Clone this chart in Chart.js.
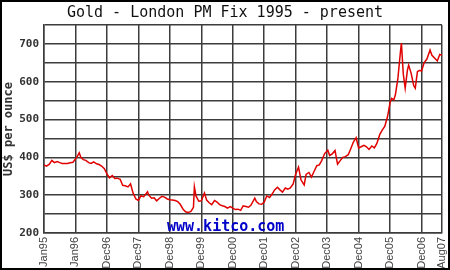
<!DOCTYPE html>
<html>
<head>
<meta charset="utf-8">
<script src="https://cdn.jsdelivr.net/npm/chart.js@4.4.1/dist/chart.umd.min.js"></script>
<style>
  html, body { margin: 0; padding: 0; background: #fff; }
  #wrap { width: 450px; height: 270px; }
</style>
</head>
<body>
<div id="wrap"><canvas id="goldChart" width="450" height="270"></canvas></div>
<script>
// decimal years (Jan95 = 1995.0) and US$ per ounce
var dates = [
  1995.00, 1995.08, 1995.17, 1995.25, 1995.33, 1995.42, 1995.50, 1995.58, 1995.67, 1995.75, 1995.83, 1995.92,
  1996.04, 1996.12, 1996.17, 1996.25, 1996.33, 1996.42, 1996.50, 1996.58, 1996.67, 1996.75, 1996.83, 1996.92,
  1997.00, 1997.08, 1997.17, 1997.25, 1997.33, 1997.42, 1997.50, 1997.58, 1997.67, 1997.75, 1997.83, 1997.92,
  1998.00, 1998.08, 1998.17, 1998.29, 1998.33, 1998.42, 1998.50, 1998.58, 1998.67, 1998.75, 1998.83, 1998.92,
  1999.00, 1999.08, 1999.17, 1999.25, 1999.33, 1999.42, 1999.50, 1999.58, 1999.67, 1999.75, 1999.78, 1999.83, 1999.92,
  2000.00, 2000.10, 2000.17, 2000.25, 2000.33, 2000.42, 2000.50, 2000.58, 2000.67, 2000.75, 2000.83, 2000.92,
  2001.00, 2001.08, 2001.17, 2001.25, 2001.33, 2001.42, 2001.50, 2001.58, 2001.70, 2001.75, 2001.83, 2001.92,
  2002.00, 2002.08, 2002.17, 2002.25, 2002.33, 2002.42, 2002.50, 2002.58, 2002.67, 2002.75, 2002.83, 2002.92,
  2003.00, 2003.09, 2003.17, 2003.27, 2003.33, 2003.42, 2003.50, 2003.58, 2003.67, 2003.75, 2003.83, 2003.92,
  2004.02, 2004.08, 2004.17, 2004.25, 2004.33, 2004.42, 2004.50, 2004.58, 2004.67, 2004.75, 2004.83, 2004.92,
  2005.00, 2005.08, 2005.17, 2005.25, 2005.33, 2005.42, 2005.50, 2005.58, 2005.67, 2005.75, 2005.83, 2005.92,
  2006.00, 2006.05, 2006.12, 2006.17, 2006.25, 2006.33, 2006.36, 2006.42, 2006.48, 2006.55, 2006.59, 2006.67,
  2006.75, 2006.80, 2006.87, 2006.95,
  2007.00, 2007.08, 2007.17, 2007.27, 2007.33, 2007.42, 2007.50, 2007.58, 2007.65
];
var prices = [
  380, 377, 382, 392, 386, 389, 386, 384, 384, 384, 386, 387,
  400, 412, 400, 394, 392, 386, 384, 388, 383, 381, 377, 370,
  356, 346, 352, 344, 345, 342, 326, 325, 322, 330, 306, 290,
  286, 298, 296, 309, 300, 292, 293, 285, 292, 297, 295, 290,
  288, 287, 286, 283, 276, 263, 256, 254, 257, 268, 322, 298, 284,
  285, 306, 287, 280, 275, 286, 282, 275, 272, 270, 266, 270,
  266, 262, 263, 260, 272, 270, 268, 274, 292, 283, 277, 276,
  282, 298, 294, 303, 314, 321, 314, 308, 319, 316, 319, 330,
  356, 374, 340, 327, 355, 360, 348, 362, 378, 380, 392, 410,
  419, 405, 410, 418, 382, 392, 400, 402, 407, 423, 440, 452,
  425, 428, 432, 428, 421, 430, 425, 437, 460, 472, 482, 508,
  545, 556, 552, 566, 610, 680, 702, 620, 583, 630, 644, 622,
  590, 583, 627, 630,
  628, 650, 660, 684, 670, 662, 655, 672, 670
];

var xTickValues = [1995, 1996, 1997, 1998, 1999, 2000, 2001, 2002, 2003, 2004, 2005, 2006, 2007, 2007.65];
var xTickLabels = ['Jan95', 'Jan96', 'Dec96', 'Dec97', 'Dec98', 'Dec99', 'Dec00', 'Dec01', 'Dec02', 'Dec03', 'Dec04', 'Dec05', 'Dec06', 'Aug07'];
var yTickLabels = [200, 300, 400, 500, 600, 700];

var points = dates.map(function (d, i) { return { x: d, y: prices[i] }; });

// white page, outer frame and the kitco watermark
var decor = {
  id: 'decor',
  beforeDraw: function (chart) {
    var c = chart.ctx;
    c.save();
    c.fillStyle = '#fff';
    c.fillRect(0, 0, chart.width, chart.height);
    c.restore();
  },
  afterDatasetsDraw: function (chart) {
    var c = chart.ctx;
    c.save();
    c.font = 'bold 15px "DejaVu Sans Mono"';
    c.fillStyle = '#0000c8';
    c.textAlign = 'left';
    c.textBaseline = 'alphabetic';
    c.fillText('www.kitco.com', 167, 231);
    c.restore();
  },
  afterDraw: function (chart) {
    var c = chart.ctx;
    c.save();
    c.strokeStyle = '#000';
    c.lineWidth = 2;
    c.strokeRect(1, 1, chart.width - 2, chart.height - 2);
    c.restore();
  }
};

new Chart(document.getElementById('goldChart'), {
  type: 'line',
  data: {
    datasets: [{
      data: points,
      borderColor: '#e00000',
      borderWidth: 1.5,
      pointRadius: 0,
      tension: 0,
      fill: false
    }]
  },
  options: {
    responsive: false,
    animation: false,
    layout: { padding: { left: 8, right: 8, top: 0, bottom: 0 } },
    plugins: {
      legend: { display: false },
      tooltip: { enabled: false },
      title: {
        display: true,
        text: 'Gold - London PM Fix 1995 - present',
        color: '#111',
        font: { family: '"DejaVu Sans Mono"', size: 15, weight: 'normal', lineHeight: 1.2 },
        padding: { top: 4, bottom: 3 }
      }
    },
    scales: {
      x: {
        type: 'linear',
        min: 1995,
        max: 2007.65,
        afterBuildTicks: function (scale) {
          scale.ticks = xTickValues.map(function (v) { return { value: v }; });
        },
        afterFit: function (scale) {
          scale.height = 37;
          scale.paddingLeft = 0;
          scale.paddingRight = 0;
        },
        grid: { color: '#3c3c3c', lineWidth: 1.5, drawTicks: false },
        border: { color: '#3c3c3c', width: 1.5 },
        ticks: {
          autoSkip: false,
          maxRotation: 90,
          minRotation: 90,
          padding: 4,
          color: '#444',
          font: { family: '"Liberation Sans"', size: 11 },
          callback: function (value) {
            var i = xTickValues.indexOf(value);
            return i >= 0 ? xTickLabels[i] : '';
          }
        }
      },
      y: {
        min: 200,
        max: 750,
        afterFit: function (scale) {
          scale.width = 36;
          scale.paddingTop = 0;
          scale.paddingBottom = 0;
        },
        grid: { color: '#3c3c3c', lineWidth: 1.5, drawTicks: false },
        border: { color: '#3c3c3c', width: 1.5 },
        ticks: {
          stepSize: 50,
          padding: 5,
          color: '#333',
          font: { family: '"DejaVu Sans Mono"', size: 11, weight: 'bold' },
          callback: function (value) {
            return yTickLabels.indexOf(value) >= 0 ? String(value) : '';
          }
        },
        title: {
          display: true,
          text: 'US$ per ounce',
          color: '#333',
          font: { family: '"DejaVu Sans Mono"', size: 12, weight: 'bold', lineHeight: 1.2 },
          padding: { top: -6, bottom: 0 }
        }
      }
    }
  },
  plugins: [decor]
});
</script>
</body>
</html>
